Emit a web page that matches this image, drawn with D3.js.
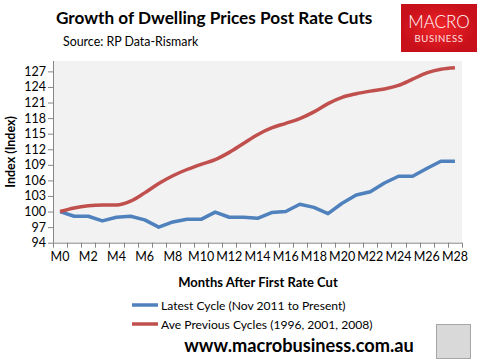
<!DOCTYPE html>
<meta charset="utf-8">
<head>
<style>
body { margin: 0; background: #fff; }
text { font-family: Lato, "Open Sans", sans-serif; }
</style>
<script src="https://cdnjs.cloudflare.com/ajax/libs/d3/7.8.5/d3.min.js"></script>
</head>
<body>
<div id="vis-container"></div>
</body>
<script>
// months after first cut, M0..M28
var months = d3.range(0, 29).map(function(i) { return 'M' + i })
var latestCycle = [100, 99.1, 99.1, 98.2, 98.9, 99.1, 98.4, 97.0, 98.0, 98.5,
	98.5, 99.9, 98.9, 98.9, 98.7, 99.8, 100.0, 101.4, 100.8, 99.6,
	101.6, 103.2, 103.8, 105.5, 106.8, 106.8, 108.3, 109.7, 109.7]
var previousCycles = [100, 100.7, 101.1, 101.25, 101.25, 102.0, 103.6, 105.4, 106.9, 108.1,
	109.1, 110.0, 111.4, 113.1, 114.8, 116.1, 117.0, 117.9, 119.2, 120.8,
	122.0, 122.7, 123.2, 123.6, 124.3, 125.5, 126.7, 127.4, 127.7]
var yTicks = [94, 97, 100, 103, 106, 109, 112, 115, 118, 121, 124, 127]
var seriesNames = ['Latest Cycle (Nov 2011 to Present)', 'Ave Previous Cycles (1996, 2001, 2008)']

var width = 482, height = 363
var plot = {left: 53, right: 462, top: 61, bottom: 242.7}

var svg = d3.select('#vis-container').append('svg')
	.attr('width', width)
	.attr('height', height)

var x = d3.scaleLinear().domain([-0.5, months.length - 0.5]).range([plot.left, plot.right])
var y = d3.scaleLinear().domain([94, 129]).range([plot.bottom, plot.top])

// plot background
svg.append('rect')
	.attr('x', plot.left).attr('y', plot.top)
	.attr('width', plot.right - plot.left).attr('height', plot.bottom - plot.top)
	.attr('fill', '#f2f2f2')

// y axis
var yAxis = svg.append('g')
	.attr('transform', 'translate(' + plot.left + ',0)')
	.call(d3.axisLeft(y).tickValues(yTicks).tickSize(5).tickSizeOuter(0))
yAxis.select('.domain').attr('stroke', '#868686').attr('d', 'M0.5,' + plot.top + 'V' + plot.bottom)
yAxis.selectAll('.tick line').attr('stroke', '#868686')
yAxis.selectAll('.tick text').attr('font-size', 12.5).attr('fill', '#000').attr('x', -7)

// x axis: ticks between categories, labels every 2 months
var xAxis = svg.append('g')
	.attr('transform', 'translate(0,' + plot.bottom + ')')
xAxis.append('line')
	.attr('x1', plot.left).attr('x2', plot.right)
	.attr('y1', 0.5).attr('y2', 0.5)
	.attr('stroke', '#868686')
xAxis.selectAll('line.tk')
	.data(d3.range(0, months.length + 1))
	.enter().append('line')
	.attr('class', 'tk')
	.attr('x1', function(d) { return Math.round(x(d - 0.5)) + 0.5 })
	.attr('x2', function(d) { return Math.round(x(d - 0.5)) + 0.5 })
	.attr('y1', 0).attr('y2', 5)
	.attr('stroke', '#868686')
xAxis.selectAll('text')
	.data(months.filter(function(d, i) { return i % 2 == 0 }))
	.enter().append('text')
	.attr('x', function(d) { return x(+d.slice(1)) })
	.attr('y', 18)
	.attr('text-anchor', 'middle')
	.attr('font-size', 12.5)
	.text(function(d) { return d })

// lines
var blueLine = d3.line()
	.x(function(d, i) { return x(i) })
	.y(function(d) { return y(d) })
var redLine = d3.line()
	.x(function(d, i) { return x(i) })
	.y(function(d) { return y(d) })
	.curve(d3.curveMonotoneX)

svg.append('path')
	.datum(latestCycle)
	.attr('d', blueLine)
	.attr('fill', 'none')
	.attr('stroke', '#4f81bd')
	.attr('stroke-width', 3.5)
	.attr('stroke-linejoin', 'round')
svg.append('path')
	.datum(previousCycles)
	.attr('d', redLine)
	.attr('fill', 'none')
	.attr('stroke', '#c0504d')
	.attr('stroke-width', 3.5)
	.attr('stroke-linejoin', 'round')

// titles
svg.append('text')
	.attr('x', 56).attr('y', 24)
	.attr('font-size', 17.2).attr('font-weight', 'bold')
	.text('Growth of Dwelling Prices Post Rate Cuts')
svg.append('text')
	.attr('x', 63).attr('y', 46)
	.attr('font-size', 12.4)
	.text('Source: RP Data-Rismark')
svg.append('text')
	.attr('transform', 'translate(15,' + ((plot.top + plot.bottom) / 2) + ') rotate(-90)')
	.attr('text-anchor', 'middle')
	.attr('font-size', 12.5).attr('font-weight', 'bold')
	.text('Index (Index)')
svg.append('text')
	.attr('x', 258).attr('y', 287)
	.attr('text-anchor', 'middle')
	.attr('font-size', 13).attr('font-weight', 'bold')
	.text('Months After First Rate Cut')

// legend
var colors = ['#4f81bd', '#c0504d']
var legend = svg.selectAll('g.legend')
	.data(seriesNames)
	.enter().append('g')
	.attr('class', 'legend')
	.attr('transform', function(d, i) { return 'translate(132,' + (305 + i * 19) + ')' })
legend.append('line')
	.attr('x1', 0).attr('x2', 26)
	.attr('stroke', function(d, i) { return colors[i] })
	.attr('stroke-width', 3.5)
legend.append('text')
	.attr('x', 29).attr('y', 4.5)
	.attr('font-size', 12.1)
	.text(function(d) { return d })

// footer url
svg.append('text')
	.attr('x', 299).attr('y', 352)
	.attr('text-anchor', 'middle')
	.attr('font-size', 18.2).attr('font-weight', 'bold')
	.text('www.macrobusiness.com.au')

// logo box
var grad = svg.append('defs').append('radialGradient').attr('id', 'logoGrad')
grad.append('stop').attr('offset', '0%').attr('stop-color', '#f0262b')
grad.append('stop').attr('offset', '100%').attr('stop-color', '#c8101a')
svg.append('rect')
	.attr('x', 401).attr('y', 4).attr('width', 76).attr('height', 48)
	.attr('fill', 'url(#logoGrad)')
svg.append('text')
	.attr('x', 439).attr('y', 28)
	.attr('text-anchor', 'middle')
	.attr('font-family', 'Roboto, sans-serif').attr('font-weight', 300)
	.attr('font-size', 17).attr('fill', '#fff')
	.text('MACRO')
svg.append('text')
	.attr('x', 439).attr('y', 41.5)
	.attr('text-anchor', 'middle')
	.attr('font-family', 'Roboto, sans-serif')
	.attr('font-size', 9.5).attr('fill', '#ffe0e0').attr('letter-spacing', 0.6)
	.text('BUSINESS')

// wolf picture placeholder
svg.append('rect')
	.attr('x', 436.5).attr('y', 324.5).attr('width', 34).attr('height', 34)
	.attr('fill', '#d9d9d9').attr('stroke', '#a6a6a6')
</script>
</html>
